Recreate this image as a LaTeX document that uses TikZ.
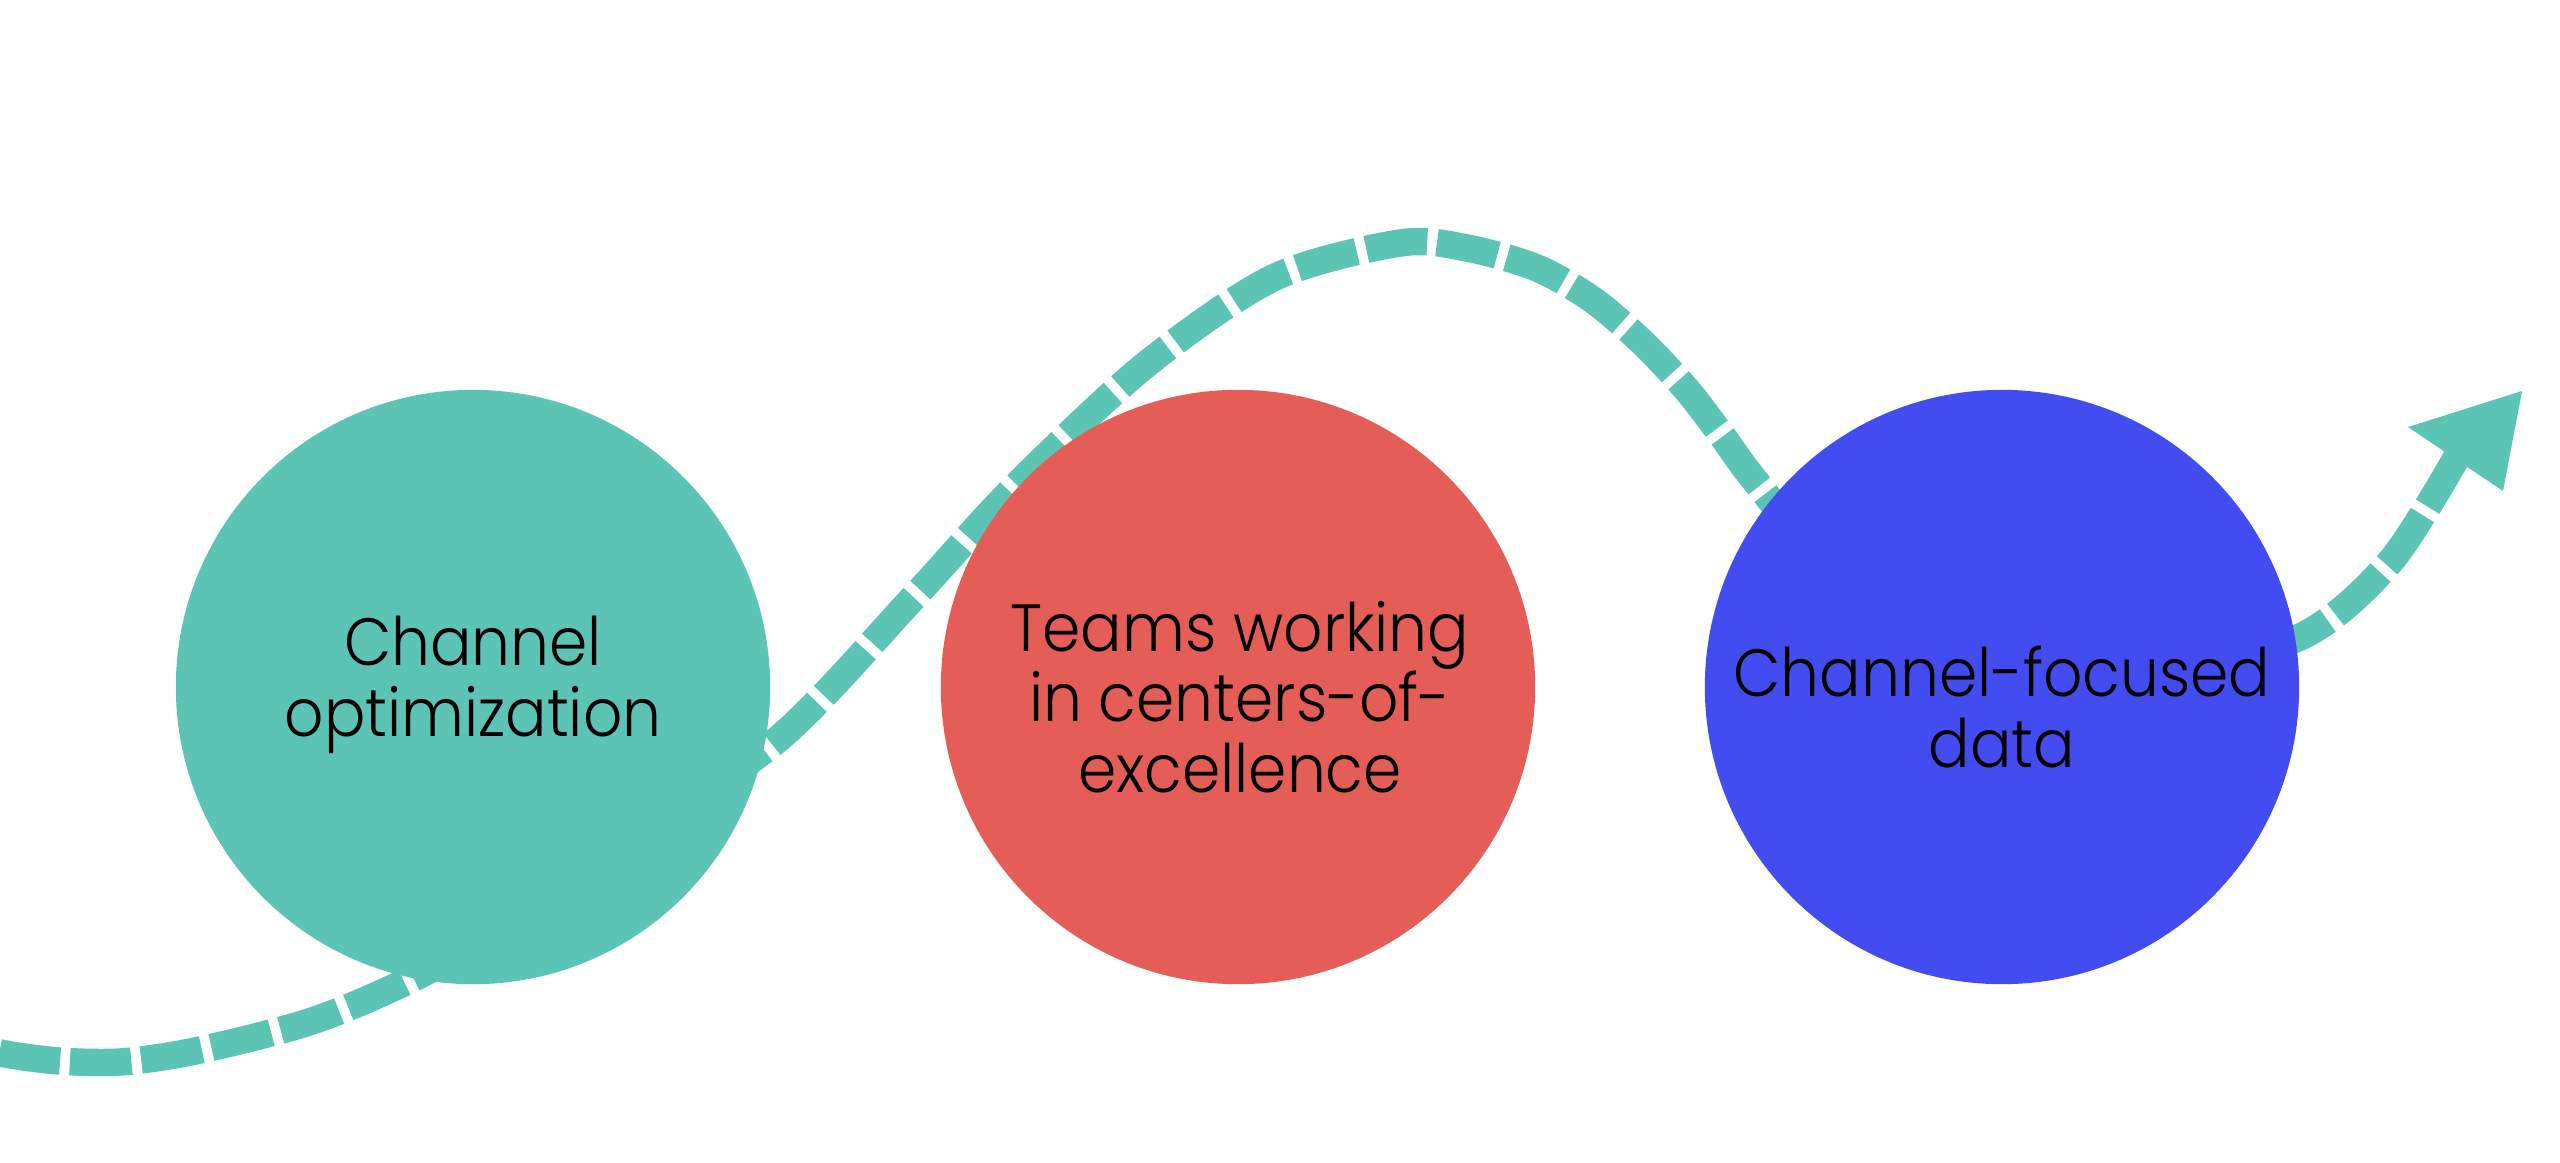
\documentclass[tikz,border=0pt]{standalone}
\usepackage{fontspec}
\setmainfont{Poppins Light}[FakeStretch=0.92]
\definecolor{tealc}{HTML}{5BC4B5}
\definecolor{redc}{HTML}{E55D57}
\definecolor{bluec}{HTML}{434CF0}
\begin{document}
\begin{tikzpicture}[x=0.01cm,y=-0.01cm,
  bubble/.style={circle,minimum size=5.94cm,inner sep=0pt,draw=none},
  label/.style={font=\fontsize{19}{20}\selectfont,align=center,text=black},
  flow/.style={line width=7.8pt,tealc,dash pattern=on 17.5pt off 2.8pt}]
\useasboundingbox (0,0) rectangle (2560,1162);
\fill[white] (0,0) rectangle (2560,1162);
% flowing path
\coordinate (pstart) at (-70,1035);
\coordinate (pend) at (2458,455);
\draw[flow] plot[smooth,tension=0.5] coordinates {(pstart) (0,1053) (60,1061) (120,1062) (180,1054) (247,1039) (312,1021) (375,996) (450,958) (600,860) (777,740) (913,598) (1012,490) (1143,367) (1273,278) (1400,243) (1467,248) (1537,268) (1593,300) (1643,343) (1687,390) (1723,437) (1757,483) (1850,590) (2000,660) (2150,672) (2300,637) (2390,562) (pend)};
\coordinate (a1) at (2408,427);
\coordinate (a2) at (2522,391);
\coordinate (a3) at (2503,491);
\fill[tealc] (a1) -- (a2) -- (a3) -- cycle;
% circles
\node[bubble,fill=tealc] (c1) at (473,687) {};
\node[bubble,fill=redc] (c2) at (1238,687) {};
\node[bubble,fill=bluec] (c3) at (2002,687) {};
\node[label] (t1) at (473,685) {Channel\\optimization};
\node[label] (t2) at (1240,697) {Teams working\\in centers-of-\\excellence};
\node[label] (t3) at (2002,707) {Channel-focused\\data};
\end{tikzpicture}
\end{document}
